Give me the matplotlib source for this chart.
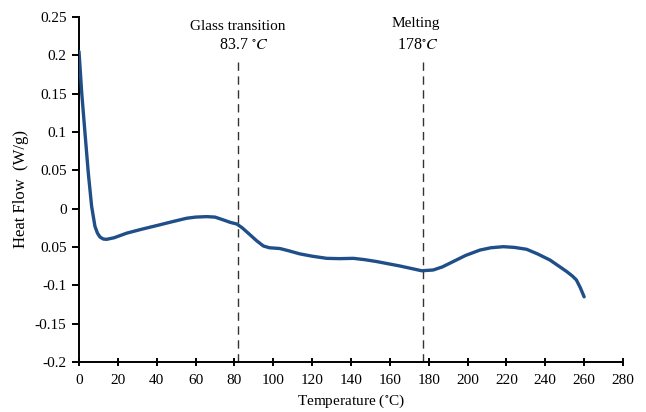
import matplotlib
matplotlib.use("Agg")
import matplotlib.pyplot as plt

# DSC curve values
temperature = [0, 1.4, 3.1, 4.8, 6.5, 8.2, 9.5, 10.8, 12.5, 14.2, 18, 24.5, 32, 41.7, 48, 55.4,
               60, 65.7, 70, 74.3, 78, 81.2, 84, 88, 91.5, 94.9, 98, 103.4, 108, 113.7, 120,
               127.5, 134, 141.2, 147, 153.2, 159, 165.2, 171, 176.4, 182.3, 187, 192.6,
               199, 206.4, 212, 218.4, 224, 230.4, 236, 242.4, 247, 251, 254, 256, 258, 260]
heat_flow = [0.205, 0.151, 0.098, 0.046, 0.003, -0.023, -0.032, -0.037, -0.0396, -0.040,
             -0.038, -0.032, -0.027, -0.021, -0.017, -0.0125, -0.011, -0.0104, -0.011,
             -0.0147, -0.018, -0.020, -0.025, -0.034, -0.042, -0.0487, -0.051, -0.052,
             -0.055, -0.059, -0.062, -0.0648, -0.0652, -0.0648, -0.0665, -0.069, -0.0718,
             -0.0748, -0.078, -0.081, -0.080, -0.076, -0.069, -0.061, -0.054, -0.051,
             -0.0496, -0.0505, -0.053, -0.059, -0.067, -0.075, -0.082, -0.088, -0.093,
             -0.103, -0.115]

glass_t = 82
melt_t = 177

x_ticks = list(range(0, 281, 20))
y_ticks = [0.25, 0.2, 0.15, 0.1, 0.05, 0, -0.05, -0.1, -0.15, -0.2]
y_tick_labels = ["0.25", "0.2", "0.15", "0.1", "0.05", "0", "0.05", "-0.1", "-0.15", "-0.2"]

plt.rcParams["font.family"] = ["Liberation Serif", "DejaVu Serif"]
plt.rcParams["mathtext.fontset"] = "stix"
plt.rcParams["axes.unicode_minus"] = False

fig = plt.figure(figsize=(6.46, 4.12), dpi=100)
ax = fig.add_axes([0.1223, 0.1214, 0.8421, 0.8373])

ax.plot(temperature, heat_flow, color="#1f4e89", lw=2.4,
        solid_capstyle="round", solid_joinstyle="round", zorder=3)

# transition markers
for t in (glass_t, melt_t):
    ax.plot([t, t], [-0.2, 0.198], color="#333333", lw=1.0, dashes=(6, 4), zorder=2)

ax.text(81.6, 0.2376, "Glass transition", ha="center", va="center", fontsize=11)
ax.text(84.9, 0.2137, r"83.7 $^{\circ}C$", ha="center", va="center", fontsize=11.5)
ax.text(173.4, 0.241, "Melting", ha="center", va="center", fontsize=11)
ax.text(174.5, 0.2137, r"178$^{\circ}C$", ha="center", va="center", fontsize=11.5)

ax.set_xlim(0, 280)
ax.set_ylim(-0.2, 0.25)
ax.set_xticks(x_ticks)
ax.set_yticks(y_ticks)
ax.set_yticklabels(y_tick_labels)

for side in ("top", "right"):
    ax.spines[side].set_visible(False)
for side in ("left", "bottom"):
    ax.spines[side].set_linewidth(1.4)

ax.tick_params(axis="x", direction="inout", length=6, width=1.4, labelsize=11, pad=6)
ax.tick_params(axis="y", direction="out", length=5, width=1.4, labelsize=11, pad=4)

ax.set_xlabel(r"Temperature ($^{\circ}$C)", fontsize=11, labelpad=4)
ax.set_ylabel("Heat Flow  (W/g)", fontsize=12, labelpad=4)

fig.savefig("out.png", dpi=100)
